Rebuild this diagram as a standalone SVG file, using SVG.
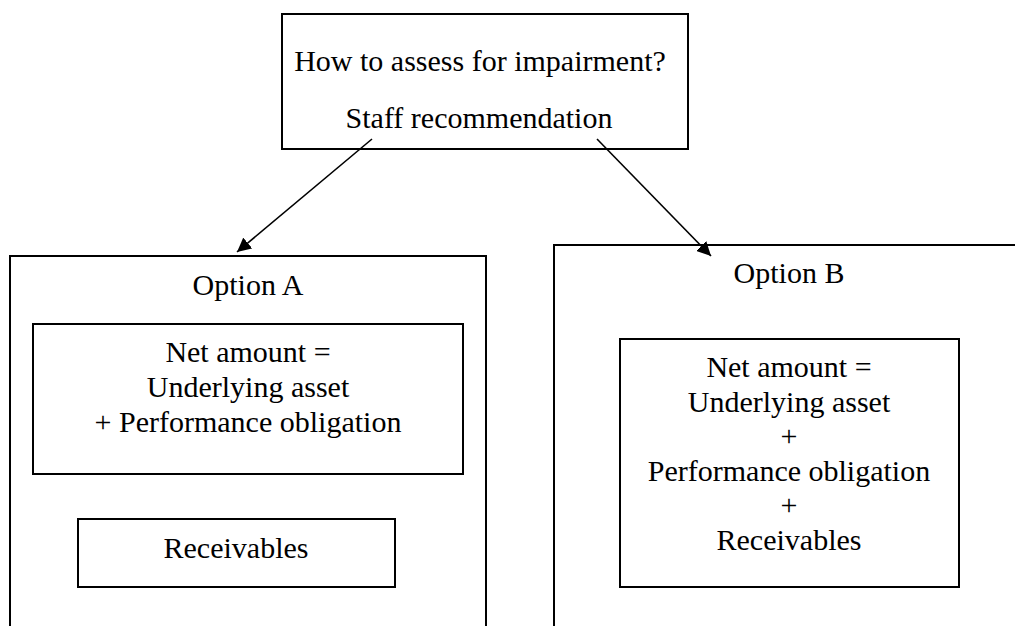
<svg xmlns="http://www.w3.org/2000/svg" width="1015" height="626" viewBox="0 0 1015 626">
  <style>
    .box { fill: none; stroke: #000; stroke-width: 2; }
    .inner { fill: none; stroke: #000; stroke-width: 2; }
    .lbl { font-family: "Liberation Serif", "Times New Roman", serif; font-size: 30px; fill: #000; text-anchor: middle; }
    .edge { stroke: #000; stroke-width: 1.6; fill: none; marker-end: url(#arrow); }
  </style>
  <defs>
    <marker id="arrow" viewBox="0 0 10 10" refX="10" refY="5" markerWidth="14" markerHeight="14" markerUnits="userSpaceOnUse" orient="auto">
      <path d="M0,0 L10,5 L0,10 z" fill="#000"/>
    </marker>
  </defs>
  <rect width="1015" height="626" fill="#fff"/>

  <!-- question box -->
  <g id="question">
    <rect class="box" x="282" y="14" width="406" height="135"/>
    <text class="lbl" x="480" y="71">How to assess for impairment?</text>
    <text class="lbl" x="479" y="128">Staff recommendation</text>
  </g>

  <!-- Option A container -->
  <g id="option-a">
    <path class="box" d="M10,640 V256 H486 V640"/>
    <text class="lbl" x="248" y="295">Option A</text>
  </g>
  <g id="option-a-net">
    <rect class="inner" x="33" y="324" width="430" height="150"/>
    <text class="lbl" x="248" y="362">Net amount =</text>
    <text class="lbl" x="248" y="397">Underlying asset</text>
    <text class="lbl" x="248" y="432">+ Performance obligation</text>
  </g>
  <g id="option-a-receivables">
    <rect class="inner" x="78" y="519" width="317" height="68"/>
    <text class="lbl" x="236" y="558">Receivables</text>
  </g>

  <!-- Option B container -->
  <g id="option-b">
    <path class="box" d="M554,640 V245 H1020"/>
    <text class="lbl" x="789" y="283">Option B</text>
  </g>
  <g id="option-b-net">
    <rect class="inner" x="620" y="339" width="339" height="248"/>
    <text class="lbl" x="789" y="377">Net amount =</text>
    <text class="lbl" x="789" y="412">Underlying asset</text>
    <text class="lbl" x="789" y="446">+</text>
    <text class="lbl" x="789" y="481">Performance obligation</text>
    <text class="lbl" x="789" y="515">+</text>
    <text class="lbl" x="789" y="550">Receivables</text>
  </g>

  <!-- connectors -->
  <g id="connectors">
    <line class="edge" x1="372" y1="139" x2="237" y2="252"/>
    <line class="edge" x1="597" y1="139" x2="711" y2="256"/>
  </g>
</svg>
